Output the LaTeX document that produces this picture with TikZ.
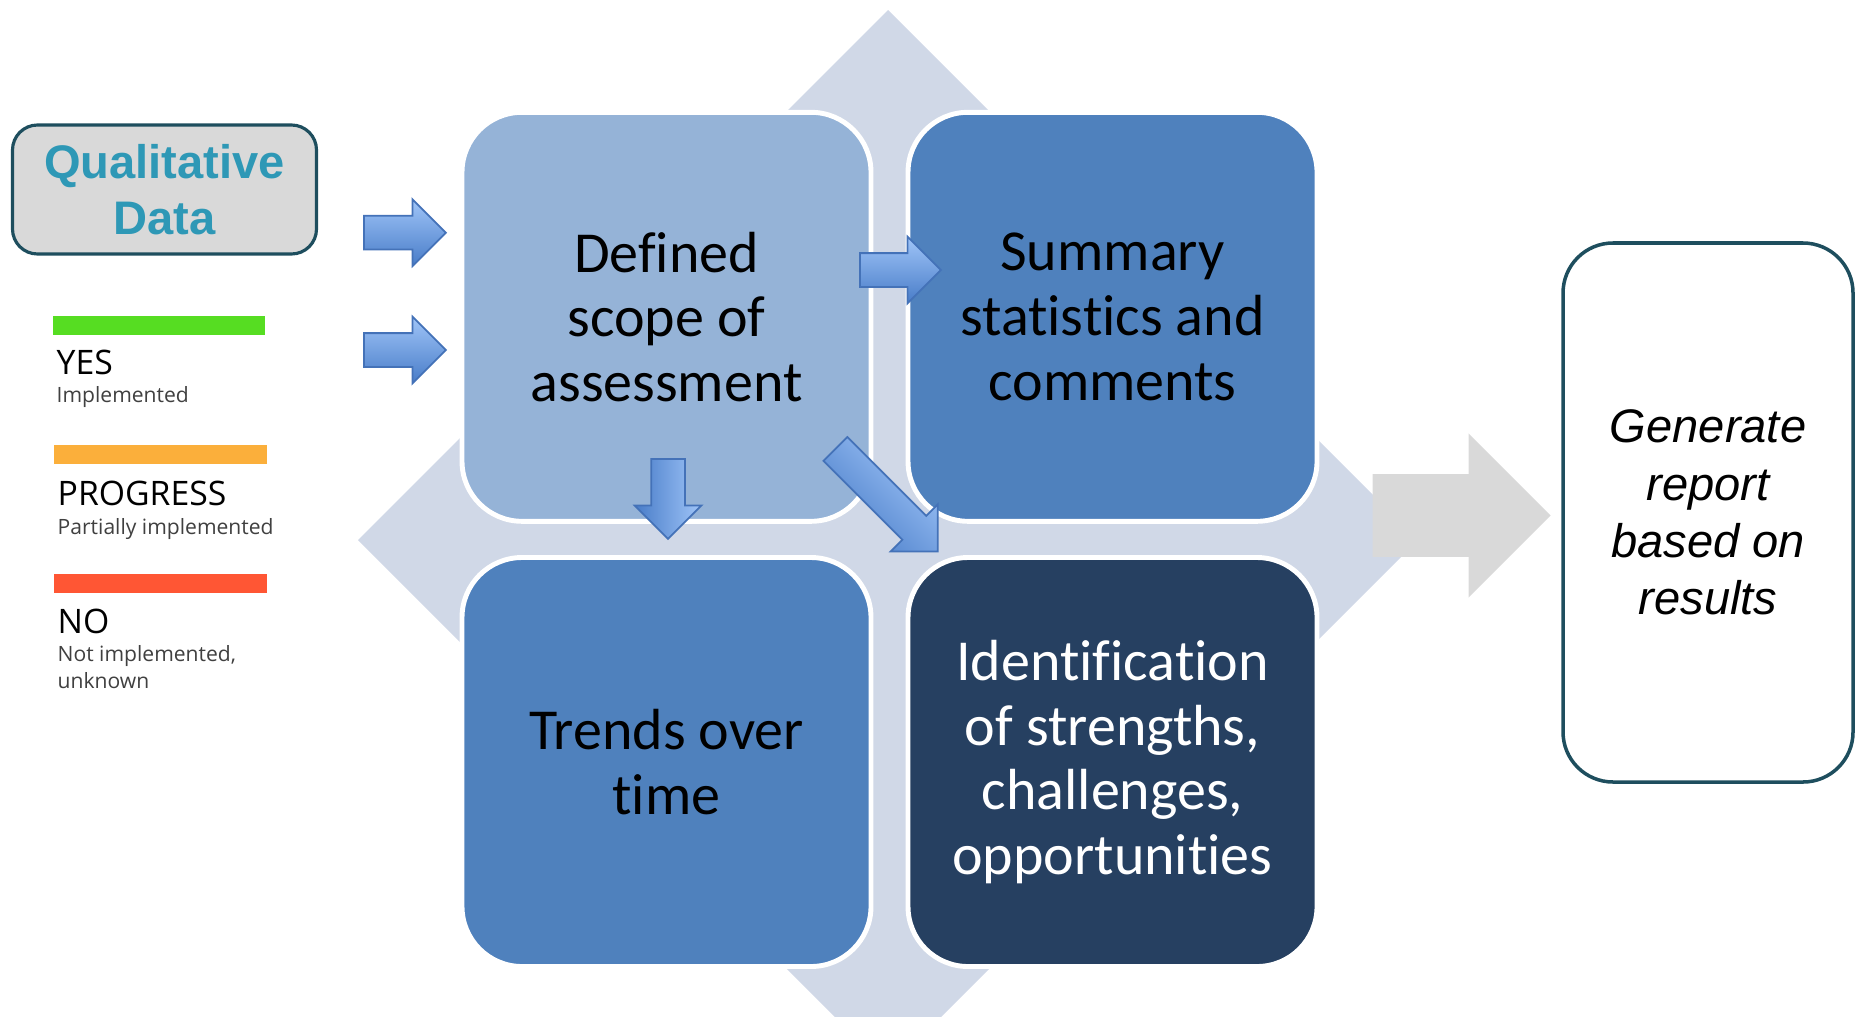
\documentclass[tikz,border=0pt]{standalone}
\usepackage{fontspec}
\setmainfont{Carlito}[Ligatures=NoCommon]
\newfontfamily\arialfont{Liberation Sans}
\newfontfamily\keyfont{Open Sans}
\usetikzlibrary{shapes.arrows,positioning}

\definecolor{diamondgrey}{RGB}{208,216,231}
\definecolor{paleblue}{RGB}{149,179,215}
\definecolor{midblue}{RGB}{79,129,189}
\definecolor{navy}{RGB}{38,64,97}
\definecolor{arrowlight}{RGB}{160,197,248}
\definecolor{arrowdark}{RGB}{72,124,200}
\definecolor{arrowedge}{RGB}{68,114,184}
\definecolor{tealtext}{RGB}{46,152,182}
\definecolor{tealedge}{RGB}{30,78,94}
\definecolor{boxgrey}{RGB}{217,217,217}
\definecolor{yesgreen}{RGB}{86,221,34}
\definecolor{progorange}{RGB}{251,175,59}
\definecolor{nored}{RGB}{255,86,52}
\definecolor{keygrey}{RGB}{64,64,64}

\tikzset{
  cell/.style={rounded corners=0.6cm, draw=white, line width=1.4pt,
    minimum width=4.09cm, minimum height=4.09cm, inner sep=0pt,
    align=center, font=\fontsize{16.5}{18.4}\selectfont},
  bluearrow/.style={single arrow, single arrow tip angle=90,
    single arrow head extend=0.165cm, inner xsep=0pt, inner ysep=0.16cm,
    anchor=tail, draw=arrowedge, line width=0.5pt,
    top color=arrowlight, bottom color=arrowdark},
  keybig/.style={anchor=base west, inner sep=0pt,
    font=\keyfont\fontsize{9.6}{11}\selectfont},
  keysmall/.style={anchor=base west, inner sep=0pt, text=keygrey,
    font=\keyfont\fontsize{6}{7.6}\selectfont}
}

\begin{document}
\begin{tikzpicture}[y=-1cm]

\useasboundingbox (0,0) rectangle (18.6,10.16);
\clip (0,0) rectangle (18.6,10.16);

% Background diamond
\fill[diamondgrey] (8.88,0.10) -- (14.18,5.40) -- (8.88,10.70)
  -- (3.58,5.40) -- cycle;

% Input box
\node[rounded corners=0.25cm, fill=boxgrey, draw=tealedge,
  line width=0.9pt, minimum width=3.04cm, minimum height=1.29cm,
  align=center, text=tealtext,
  font=\arialfont\bfseries\fontsize{13.4}{16}\selectfont]
  (qual) at (1.645,1.895)
{Qualitative\\Data};

% Legend
\fill[yesgreen] (0.53,3.16) rectangle (2.65,3.35);
\node[keybig] (yes) at (0.56,3.74) {YES};
\node[keysmall] (yesnote) at (0.56,4.02) {Implemented};

\fill[progorange] (0.54,4.45) rectangle (2.67,4.636);
\node[keybig] (prog) at (0.57,5.057) {PROGRESS};
\node[keysmall] (prognote) at (0.57,5.344) {Partially implemented};

\fill[nored] (0.54,5.738) rectangle (2.67,5.925);
\node[keybig] (no) at (0.57,6.33) {NO};
\node[keysmall] (nonote) at (0.57,6.618) {Not implemented,};
\node[keysmall] (nonote2) at (0.57,6.886) {unknown};

% Four cells
\node[cell, fill=paleblue] (scope) at (6.665,3.168)
{Defined\\scope of\\assessment};

\node[cell, fill=midblue] (summary) at (11.125,3.168)
{Summary\\statistics and\\comments};

\node[cell, fill=midblue] (trends) at (6.665,7.62)
{Trends over\\time};

\node[cell, fill=navy, text=white] (ident) at (11.125,7.62)
{Identification\\of strengths,\\challenges,\\opportunities};

% Small arrows (placed by their tails)
\node[bluearrow, minimum height=0.82cm] (in1) at (3.63,2.327) {};
\node[bluearrow, minimum height=0.82cm] (in2) at (3.63,3.50) {};
\node[bluearrow, minimum height=0.81cm] (across) at (8.59,2.70) {};
\node[bluearrow, minimum height=0.80cm, rotate=-90,
  shading angle=-90] (down) at (6.68,4.58) {};
\node[bluearrow, minimum height=1.45cm, rotate=-45,
  shading angle=-45] (diag) at (8.347,4.483) {};

% Output arrow
\node[single arrow, single arrow tip angle=90, fill=boxgrey,
  single arrow head extend=0.4075cm, inner xsep=0pt, inner ysep=0.4075cm,
  minimum height=1.78cm, anchor=tail] (out) at (13.72,5.155) {};

% Report box
\node[rounded corners=0.5cm, draw=tealedge, line width=1pt,
  minimum width=2.90cm, minimum height=5.39cm, align=center,
  font=\arialfont\itshape\fontsize{13.4}{16.3}\selectfont]
  (report) at (17.08,5.125)
{Generate\\report\\based on\\results};

\end{tikzpicture}
\end{document}
